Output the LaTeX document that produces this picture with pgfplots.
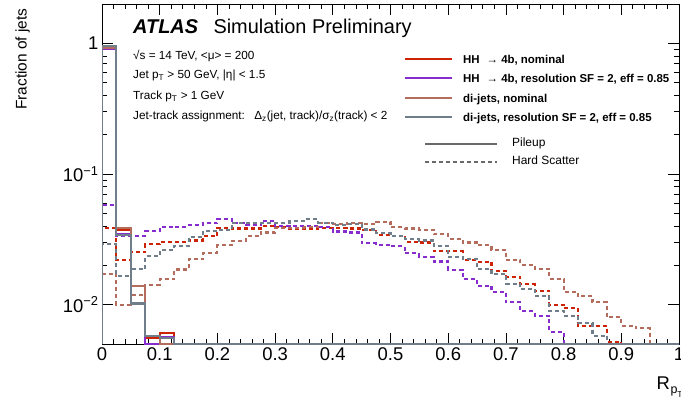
\documentclass[border=0pt]{standalone}
\usepackage{fontspec}
\setmainfont{Liberation Sans}
\usepackage{pgfplots}
\usepackage{pgfplotstable}
\pgfplotsset{compat=1.18}

\definecolor{cRed}{RGB}{205,35,5}
\definecolor{cPur}{RGB}{135,45,205}
\definecolor{cBrn}{RGB}{180,108,92}
\definecolor{cGry}{RGB}{112,125,138}
\definecolor{cLeg}{RGB}{105,105,105}

% columns: bin low edge; HS = hard scatter (dashed), PU = pileup (solid)
\pgfplotstableread{
x      hsR     hsP     hsB     hsG     puR     puP     puB     puG
0.000  0.005   0.005   0.005   0.005   0.005   0.005   0.005   0.005
0.000  0.0386  0.058   0.0172  0.029   0.91    0.91    0.93    0.95
0.025  0.0221  0.0338  0.0100  0.0166  0.0376  0.0347  0.0386  0.0343
0.050  0.0251  0.0338  0.0118  0.0188  0.0138  0.0140  0.0140  0.0102
0.075  0.0291  0.0367  0.0142  0.0235  0.0056  0.005   0.0058  0.0058
0.100  0.0301  0.0391  0.0157  0.0260  0.0061  0.0057  0.005   0.0056
0.125  0.0301  0.0396  0.0186  0.0280  0.005   0.005   0.005   0.005
0.150  0.0310  0.0405  0.0223  0.0328  0.005   0.005   0.005   0.005
0.175  0.0333  0.0421  0.0249  0.0367  0.005   0.005   0.005   0.005
0.200  0.0386  0.0454  0.0285  0.0373  0.005   0.005   0.005   0.005
0.225  0.0383  0.0425  0.0309  0.0425  0.005   0.005   0.005   0.005
0.250  0.0383  0.0410  0.0333  0.0425  0.005   0.005   0.005   0.005
0.275  0.0402  0.0439  0.0357  0.0425  0.005   0.005   0.005   0.005
0.300  0.0391  0.0400  0.0386  0.0425  0.005   0.005   0.005   0.005
0.325  0.0383  0.0400  0.0386  0.0437  0.005   0.005   0.005   0.005
0.350  0.0383  0.0400  0.0391  0.0450  0.005   0.005   0.005   0.005
0.375  0.0386  0.0391  0.0421  0.0425  0.005   0.005   0.005   0.005
0.400  0.0386  0.0363  0.0415  0.0407  0.005   0.005   0.005   0.005
0.425  0.0383  0.0357  0.0425  0.0415  0.005   0.005   0.005   0.005
0.450  0.0373  0.0295  0.0415  0.0376  0.005   0.005   0.005   0.005
0.475  0.0343  0.0287  0.0431  0.0356  0.005   0.005   0.005   0.005
0.500  0.0338  0.0279  0.0391  0.0333  0.005   0.005   0.005   0.005
0.525  0.0304  0.0248  0.0383  0.0318  0.005   0.005   0.005   0.005
0.550  0.0299  0.0233  0.0373  0.0310  0.005   0.005   0.005   0.005
0.575  0.0258  0.0214  0.0346  0.0279  0.005   0.005   0.005   0.005
0.600  0.0258  0.0185  0.0318  0.0233  0.005   0.005   0.005   0.005
0.625  0.0218  0.0157  0.0299  0.0223  0.005   0.005   0.005   0.005
0.650  0.0213  0.0140  0.0284  0.0188  0.005   0.005   0.005   0.005
0.675  0.0181  0.0126  0.0262  0.0172  0.005   0.005   0.005   0.005
0.700  0.0164  0.0104  0.0221  0.0145  0.005   0.005   0.005   0.005
0.725  0.0144  0.0089  0.0201  0.0132  0.005   0.005   0.005   0.005
0.750  0.0128  0.0082  0.0188  0.0116  0.005   0.005   0.005   0.005
0.775  0.0100  0.0062  0.0157  0.0090  0.005   0.005   0.005   0.005
0.800  0.0094  0.005   0.0126  0.0082  0.005   0.005   0.005   0.005
0.825  0.0069  0.005   0.0116  0.0072  0.005   0.005   0.005   0.005
0.850  0.0069  0.005   0.0104  0.0058  0.005   0.005   0.005   0.005
0.875  0.0052  0.005   0.0080  0.005   0.005   0.005   0.005   0.005
0.900  0.005   0.005   0.0069  0.005   0.005   0.005   0.005   0.005
0.925  0.005   0.005   0.0066  0.005   0.005   0.005   0.005   0.005
0.950  0.005   0.005   0.005   0.005   0.005   0.005   0.005   0.005
0.975  0.005   0.005   0.005   0.005   0.005   0.005   0.005   0.005
1.000  0.005   0.005   0.005   0.005   0.005   0.005   0.005   0.005
}\histdata

\begin{document}
\begin{tikzpicture}
\path[use as bounding box] (0,0) rectangle (681bp,410bp);
\begin{axis}[
  at={(102bp,66bp)}, anchor=south west,
  width=577bp, height=340bp, scale only axis,
  xmin=0, xmax=1, ymin=0.005, ymax=2,
  ymode=log,
  xtick={0,0.1,0.2,0.3,0.4,0.5,0.6,0.7,0.8,0.9,1},
  xticklabels={0,0.1,0.2,0.3,0.4,0.5,0.6,0.7,0.8,0.9,1},
  minor x tick num=4,
  ytick={0.01,0.1,1},
  yticklabels={10\textsuperscript{−2},10\textsuperscript{−1},1},
  tick align=inside,
  major tick length=11bp, minor tick length=5.5bp,
  axis line style={line width=0.8bp},
  every tick/.style={black, line width=0.7bp},
  ticklabel style={font=\fontsize{18.5}{20}\selectfont},
  /pgf/number format/assume math mode=true,
  xlabel={R\kern0.5pt\raisebox{-0.22em}{\fontsize{12.5}{13}\selectfont p\raisebox{-0.3em}{\fontsize{8.5}{9}\selectfont T}}},
  ylabel={Fraction of jets},
  every axis x label/.style={at={(axis description cs:0.961,-0.135)}, anchor=base west, inner sep=0pt, font=\fontsize{18.5}{20}\selectfont},
  every axis y label/.style={at={(axis description cs:-0.1308,0.997)}, anchor=base east, rotate=90, font=\fontsize{15.5}{17}\selectfont},
]
% hard scatter (dashed)
\addplot[const plot, color=cRed, line width=2.1bp, dash pattern=on 4bp off 3bp] table[x=x,y=hsR] {\histdata};
\addplot[const plot, color=cPur, line width=2.1bp, dash pattern=on 4bp off 3bp] table[x=x,y=hsP] {\histdata};
\addplot[const plot, color=cBrn, line width=2.1bp, dash pattern=on 4bp off 3bp] table[x=x,y=hsB] {\histdata};
\addplot[const plot, color=cGry, line width=2.1bp, dash pattern=on 4bp off 3bp] table[x=x,y=hsG] {\histdata};
% pileup (solid)
\addplot[const plot, color=cRed, line width=2.1bp] table[x=x,y=puR] {\histdata};
\addplot[const plot, color=cPur, line width=2.1bp] table[x=x,y=puP] {\histdata};
\addplot[const plot, color=cBrn, line width=2.1bp] table[x=x,y=puB] {\histdata};
\addplot[const plot, color=cGry, line width=2.1bp] table[x=x,y=puG] {\histdata};
\end{axis}

% ATLAS label and info text
\node[anchor=base west, inner sep=0, font=\fontsize{20}{22}\selectfont] at (133bp,376.7bp) {\textbf{\textit{ATLAS}}};
\node[anchor=base west, inner sep=0, font=\fontsize{20}{22}\selectfont] at (213.3bp,376.7bp) {Simulation Preliminary};
\begin{scope}[every node/.style={anchor=base west, inner sep=0, font=\fontsize{11.8}{13}\selectfont}]
\node at (133bp,350bp) {√s = 14 TeV, <μ> = 200};
\node at (133bp,331bp) {Jet p\textsubscript{T} > 50 GeV, |η| < 1.5};
\node at (133bp,310.7bp) {Track p\textsubscript{T} > 1 GeV};
\node at (133bp,290.7bp) {Jet-track assignment:\hspace{0.8em}Δ\textsubscript{z}(jet, track)/σ\textsubscript{z}(track) < 2};
\end{scope}

% legend
\begin{scope}[every node/.style={anchor=base west, inner sep=0, font=\fontsize{11.5}{13}\selectfont\bfseries}]
\draw[cRed, line width=2.1bp] (405bp,351bp) -- (452bp,351bp);
\node at (463bp,346.9bp) {HH\hspace{0.6em}{\mdseries →} 4b, nominal};
\draw[cPur, line width=2.1bp] (405bp,331.7bp) -- (452bp,331.7bp);
\node at (463bp,327.6bp) {HH\hspace{0.6em}{\mdseries →} 4b, resolution SF = 2, eff = 0.85};
\draw[cBrn, line width=2.1bp] (405bp,312bp) -- (452bp,312bp);
\node at (463bp,307.9bp) {di-jets, nominal};
\draw[cGry, line width=2.1bp] (405bp,292.7bp) -- (452bp,292.7bp);
\node at (463bp,288.6bp) {di-jets, resolution SF = 2, eff = 0.85};
\end{scope}
\draw[cLeg, line width=2.1bp] (425bp,265.7bp) -- (497bp,265.7bp);
\node[anchor=base west, inner sep=0, font=\fontsize{12}{14}\selectfont] at (512bp,263.7bp) {Pileup};
\draw[cLeg, line width=2.1bp, dash pattern=on 4bp off 3bp] (425bp,247.7bp) -- (497bp,247.7bp);
\node[anchor=base west, inner sep=0, font=\fontsize{12}{14}\selectfont] at (512bp,245.7bp) {Hard Scatter};
\end{tikzpicture}
\end{document}
